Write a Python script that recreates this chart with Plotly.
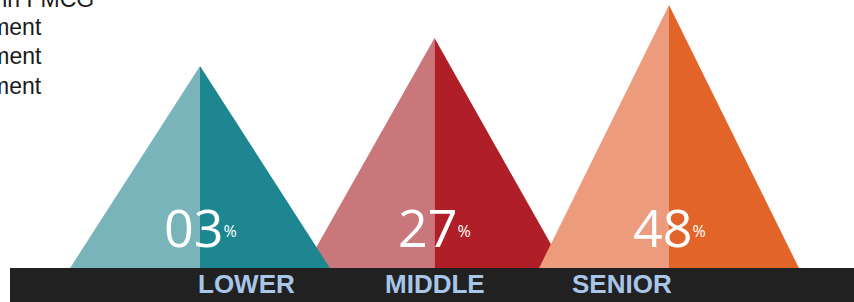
import plotly.graph_objects as go

# ---- data ----
categories = ["LOWER", "MIDDLE", "SENIOR"]
women_pct = [3, 27, 48]
peak_height = [202, 230, 263]          # pyramid heights (arbitrary units)
left_colors = ["#79b4bb", "#ca777b", "#ec9b7c"]
right_colors = ["#1e8690", "#b01f28", "#e26428"]
legend_lines = ["Women in FMCG", "Lower management", "Middle management", "Senior management"]

W, H = 854, 302
half_w = 0.554
draw_order = [1, 0, 2]

fig = go.Figure()
for i in draw_order:
    p = peak_height[i]
    fig.add_trace(go.Scatter(
        x=[i - half_w, i, i, i - half_w], y=[0, p, 0, 0],
        mode="lines", fill="toself", fillcolor=left_colors[i],
        line=dict(width=0, color=left_colors[i]), hoverinfo="skip", showlegend=False))
    fig.add_trace(go.Scatter(
        x=[i, i, i + half_w, i], y=[0, p, 0, 0],
        mode="lines", fill="toself", fillcolor=right_colors[i],
        line=dict(width=0, color=right_colors[i]), hoverinfo="skip", showlegend=False))

# dark base band
fig.add_shape(type="rect", xref="paper", yref="y", x0=10 / W, x1=1, y0=-40, y1=0,
              fillcolor="#212121", line=dict(width=0), layer="above")

annotations = []
for i, v in enumerate(women_pct):
    annotations.append(dict(
        x=i, y=42, xref="x", yref="y", showarrow=False,
        text=f"{v:02d}<span style='font-size:23px'><sup>%</sup></span>",
        font=dict(family="Open Sans", size=52, color="white"),
        xanchor="center", yanchor="middle"))
for i, c in enumerate(categories):
    annotations.append(dict(
        x=1 + (i - 1) * 0.8, y=-16, xref="x", yref="y", showarrow=False,
        text=f"<b>{c}</b>", font=dict(family="Liberation Sans, Arial", size=26, color="#a8c6e8"),
        xanchor="center", yanchor="middle"))

right_edges = [96, 44, 44, 44]
baselines = [9, 37, 66, 96]
for t, xr, yb in zip(legend_lines, right_edges, baselines):
    annotations.append(dict(
        x=xr / W, y=1 - yb / H, xref="paper", yref="paper", showarrow=False,
        text=t, font=dict(family="Liberation Sans, Arial", size=23, color="#1a1a1a"),
        xanchor="right", yanchor="bottom", yshift=-5))

fig.update_layout(
    width=W, height=H, margin=dict(l=0, r=0, t=0, b=0),
    paper_bgcolor="white", plot_bgcolor="white",
    xaxis=dict(range=[-200 / 234.5, (W - 200) / 234.5], visible=False, fixedrange=True),
    yaxis=dict(range=[-34, 268], visible=False, fixedrange=True),
    annotations=annotations, showlegend=False)

fig.write_html("out.html", config={"displayModeBar": False},
               post_script="document.body.style.margin='0';document.body.style.overflow='hidden';")
